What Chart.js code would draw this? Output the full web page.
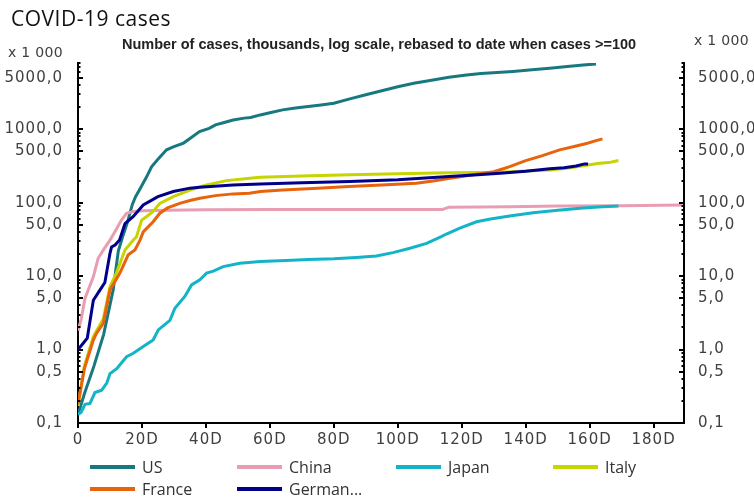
<!DOCTYPE html>
<html>
<head>
<meta charset="utf-8">
<script src="https://cdn.jsdelivr.net/npm/chart.js@4/dist/chart.umd.min.js"></script>
<style>
  html, body { margin: 0; padding: 0; background: #fff; }
  #wrap { position: relative; width: 754px; height: 498px; overflow: hidden; }
  #c { position: absolute; left: 0; top: 0; }
  .t { position: absolute; white-space: nowrap; pointer-events: none; }
  .title { left: 11px; top: 18px; transform: translateY(-50%); font: 21px "Open Sans", sans-serif; letter-spacing: 0.5px; color: #111; }
  .sub { left: 379px; top: 44px; transform: translate(-50%, -50%); font: bold 14.5px "Liberation Sans", Arial, sans-serif; color: #222; }
  .unit { font: 14px "DejaVu Sans", sans-serif; letter-spacing: 0.3px; color: #404040; transform: translateY(-50%); }
  .leg-line { position: absolute; width: 45px; height: 4px; }
  .leg-text { position: absolute; font: 16px "Open Sans", sans-serif; color: #333; transform: translateY(-50%); white-space: nowrap; }
</style>
</head>
<body>
<div id="wrap">
  <canvas id="c" width="754" height="498"></canvas>
  <div class="t title">COVID-19 cases</div>
  <div class="t sub">Number of cases, thousands, log scale, rebased to date when cases &gt;=100</div>
  <div class="t unit" style="left:8px; top:52px;">x 1 000</div>
  <div class="t unit" style="left:694px; top:40px;">x 1 000</div>
  <div id="legend"></div>
</div>
<script>
// Series names and colours
const countries = ['US', 'China', 'Japan', 'Italy', 'France', 'German...'];
const colors = ['#17797f', '#e89db2', '#13b3c8', '#c6d400', '#e8630c', '#00008b'];

// Cumulative cases (thousands) by days since the 100th case
const usDays   = [0, 2, 5, 8, 11, 12.6, 14, 15.5, 17, 18, 19.5, 21.5, 23, 25, 27.7, 30, 33, 35, 38, 41, 43, 46, 48.5, 52, 54, 57, 60, 64, 68, 72, 76, 80, 85, 90, 95, 100, 105, 111, 116, 121.5, 126, 131, 136, 142, 147.5, 153, 158, 162];
const usCases  = [0.13, 0.25, 0.6, 1.6, 6.5, 22, 35, 55, 95, 121, 158, 227, 309, 390, 525, 580, 650, 750, 930, 1030, 1150, 1250, 1340, 1420, 1450, 1570, 1680, 1840, 1950, 2050, 2150, 2270, 2600, 2950, 3350, 3800, 4250, 4700, 5100, 5500, 5750, 5950, 6150, 6450, 6800, 7150, 7500, 7780];

const chinaDays  = [0, 1, 2.2, 4.8, 6.3, 8, 10, 11.5, 13.6, 15.2, 17.3, 20, 28, 40, 60, 114, 116, 135, 150, 170, 189];
const chinaCases = [1.8, 2.6, 5, 9.8, 17.5, 23, 31, 40, 58, 72, 76, 78, 79, 80, 81, 81, 87, 88, 90, 91, 93];

const japanDays  = [0, 1, 2.2, 3.75, 5.3, 7.4, 9, 10, 12.1, 15.2, 17.3, 20.4, 23.5, 25.1, 28.75, 30.3, 33.4, 35.5, 38.1, 40.2, 42.3, 45.4, 50.6, 57, 65, 72, 80, 87, 93.3, 98.5, 103.8, 109, 113.6, 115.2, 119.4, 124.6, 129, 135, 142.3, 150, 158, 164, 169];
const japanCases = [0.13, 0.14, 0.18, 0.185, 0.26, 0.28, 0.35, 0.47, 0.55, 0.8, 0.89, 1.1, 1.35, 1.85, 2.5, 3.65, 5.3, 7.6, 8.9, 11, 11.7, 13.5, 15, 15.8, 16.3, 16.8, 17.2, 17.9, 18.8, 20.9, 24, 28, 34.5, 37.5, 45, 55, 60, 66, 73, 79, 85, 88, 90];

const italyDays  = [0, 2, 4.8, 7.9, 10, 12, 14.7, 17.3, 18.3, 19.9, 21.5, 23.5, 25.6, 29.8, 35, 40.2, 46.5, 53.7, 57, 70, 85, 100, 116, 132, 140, 147.5, 154, 159, 163, 166, 169];
const italyCases = [0.17, 0.6, 1.5, 2.6, 7.2, 11, 22.7, 31, 34.5, 58, 65, 76, 98, 121, 149, 175, 200, 216, 222, 232, 240, 248, 257, 260, 270, 280, 300, 325, 345, 352, 375];

const franceDays  = [0, 2, 4.8, 5.8, 7.9, 10, 13.1, 15.7, 17.8, 19.4, 20.4, 23.5, 25.6, 28, 31.8, 35, 38.1, 43, 48.5, 53.6, 57, 64, 75, 84.7, 95, 105.8, 111, 116.3, 121, 126.7, 130, 133, 135, 140, 145, 150.6, 155.8, 159.3, 162, 164];
const franceCases = [0.18, 0.55, 1.35, 1.67, 2.28, 6.5, 11, 19.5, 22.7, 31, 40, 55, 72, 85, 98, 107, 115, 125, 132, 135, 142, 149, 158, 166, 175, 184, 198, 216, 232, 252, 265, 290, 310, 375, 435, 524, 594, 647, 700, 740];

const germanyDays  = [0, 1.5, 2.9, 4.8, 6.9, 8.4, 10, 10.5, 11.6, 13, 14.7, 17.3, 20.4, 25, 29.8, 35, 38, 48.5, 57, 70, 85, 100, 116, 125, 132, 140, 147.5, 152, 155.8, 158.4, 159.5];
const germanyCases = [1.0, 1.2, 1.43, 4.7, 6.5, 8.2, 20.5, 25, 26.6, 31, 52, 65, 93, 121, 142, 158, 163, 175, 180, 187, 194, 205, 227, 240, 252, 268, 290, 300, 317, 338, 338];

// Axis tick labels
const yTickValues = [0.1, 0.5, 1, 5, 10, 50, 100, 500, 1000, 5000];
const xTickStep = 20;

const seriesDays = [usDays, chinaDays, japanDays, italyDays, franceDays, germanyDays];
const seriesCases = [usCases, chinaCases, japanCases, italyCases, franceCases, germanyCases];

const Y_MIN = 0.1, Y_MAX = 8000, X_MAX = 189.5;

const fmt = v => Number(v).toFixed(1).replace('.', ',');

// log-scale minor tick positions (1..9 per decade)
const logTickPositions = [];
for (let p = -1; p <= 3; p++) {
  for (let m = 1; m <= 9; m++) {
    const v = m * Math.pow(10, p);
    if (v <= Y_MAX * 1.0001) logTickPositions.push({ v, major: m === 1 || m === 5 });
  }
}

// Wider letter spacing for the axis labels, and small tick marks
// drawn on the inner side of both value axes
const axisDecor = {
  id: 'axisDecor',
  beforeDraw(chart) {
    chart.ctx.letterSpacing = '1px';
  },
  beforeDatasetsDraw(chart) {
    chart.ctx.letterSpacing = '0px';
  },
  afterDraw(chart) {
    const { ctx, chartArea } = chart;
    const y = chart.scales.y;
    ctx.save();
    ctx.strokeStyle = '#000';
    ctx.lineWidth = 2;
    logTickPositions.forEach(t => {
      const py = Math.round(y.getPixelForValue(t.v));
      const len = t.major ? 5 : 2.5;
      ctx.beginPath();
      ctx.moveTo(chartArea.left, py);
      ctx.lineTo(chartArea.left + len, py);
      ctx.moveTo(chartArea.right, py);
      ctx.lineTo(chartArea.right - len, py);
      ctx.stroke();
    });
    ctx.restore();
  }
};

const tickFont = { family: "'DejaVu Sans', sans-serif", size: 15 };

const yAxis = (position, width, pad) => ({
  type: 'logarithmic',
  position,
  min: Y_MIN,
  max: Y_MAX,
  afterFit: s => { s.width = width; },
  afterBuildTicks: s => { s.ticks = yTickValues.map(value => ({ value })); },
  ticks: { padding: pad, color: '#404040', font: tickFont, autoSkip: false, callback: v => fmt(v) },
  grid: { display: true, drawOnChartArea: false, drawTicks: false },
  border: { display: true, color: '#000', width: 2 }
});

new Chart(document.getElementById('c'), {
  type: 'line',
  data: {
    datasets: countries.map((name, i) => ({
      label: name,
      data: seriesDays[i].map((d, k) => ({ x: d, y: seriesCases[i][k] })),
      borderColor: colors[i],
      backgroundColor: colors[i],
      borderWidth: 3,
      pointRadius: 0,
      tension: 0,
      fill: false,
      order: countries.length - 1 - i
    }))
  },
  options: {
    responsive: false,
    devicePixelRatio: 1,
    animation: false,
    layout: { padding: { top: 63, left: 0, right: 0, bottom: 0 } },
    plugins: { legend: { display: false }, tooltip: { enabled: false }, title: { display: false } },
    scales: {
      x: {
        type: 'linear',
        min: 0,
        max: X_MAX,
        afterFit: s => { s.height = 75; },
        ticks: {
          stepSize: xTickStep,
          includeBounds: false,
          autoSkip: false,
          maxRotation: 0,
          padding: 3,
          color: '#404040',
          font: tickFont,
          callback: v => (v === 0 ? '0' : v + 'D')
        },
        grid: { drawOnChartArea: false, drawTicks: true, tickLength: 5, color: '#000', lineWidth: 2 },
        border: { display: true, color: '#000', width: 2 }
      },
      y: yAxis('left', 78, 15),
      y2: yAxis('right', 70, 14)
    }
  },
  plugins: [axisDecor]
});

// Legend: four columns, two rows
const legend = document.getElementById('legend');
const colLeft = [90, 237, 396, 553];
const rowCenter = [467, 489];
countries.forEach((name, i) => {
  const cx = colLeft[i % 4];
  const cy = rowCenter[Math.floor(i / 4)];
  const line = document.createElement('div');
  line.className = 'leg-line';
  line.style.left = cx + 'px';
  line.style.top = (cy - 2) + 'px';
  line.style.background = colors[i];
  legend.appendChild(line);
  const txt = document.createElement('div');
  txt.className = 'leg-text';
  txt.style.left = (cx + 52) + 'px';
  txt.style.top = cy + 'px';
  txt.textContent = name;
  legend.appendChild(txt);
});
</script>
</body>
</html>
